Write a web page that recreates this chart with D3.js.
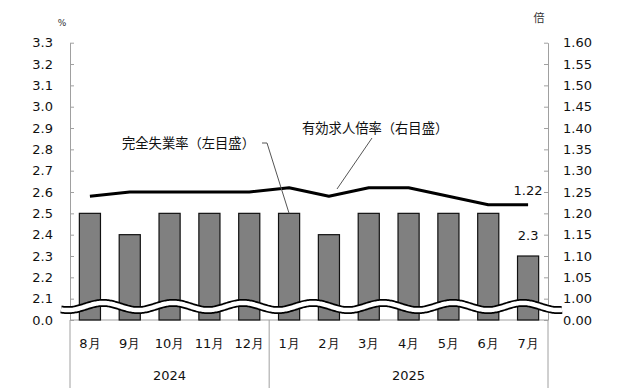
<!DOCTYPE html>
<html>
<head>
<meta charset="utf-8">
<script src="https://cdn.jsdelivr.net/npm/d3@7"></script>
<style>
  body { margin: 0; background: #fff; }
  svg { display: block; font-family: "DejaVu Sans", Verdana, sans-serif; }
</style>
</head>
<body>
<svg id="chart" width="632" height="392"></svg>
<script>
// data
const months = ["8月", "9月", "10月", "11月", "12月", "1月", "2月", "3月", "4月", "5月", "6月", "7月"];
const years = [
  { label: "2024", from: 0, to: 4 },
  { label: "2025", from: 5, to: 11 }
];
const unemployment = [2.5, 2.4, 2.5, 2.5, 2.5, 2.5, 2.4, 2.5, 2.5, 2.5, 2.5, 2.3];
const jobRatio = [1.24, 1.25, 1.25, 1.25, 1.25, 1.26, 1.24, 1.26, 1.26, 1.24, 1.22, 1.22];
const leftTicks = [2.0, 2.1, 2.2, 2.3, 2.4, 2.5, 2.6, 2.7, 2.8, 2.9, 3.0, 3.1, 3.2, 3.3];
const rightTicks = [0.95, 1.0, 1.05, 1.1, 1.15, 1.2, 1.25, 1.3, 1.35, 1.4, 1.45, 1.5, 1.55, 1.6];

const svg = d3.select("#chart");
const x0 = 70, x1 = 548, yTop = 42.7, yBase = 320;
const axisColor = "#a0a0a0";
const textColor = "#111";

let x = d3.scaleBand().domain(months).range([x0, x1]).paddingInner(0.47).paddingOuter(0.235);
let yL = d3.scaleLinear().domain([2.0, 3.3]).range([yBase, yTop]);
let yR = d3.scaleLinear().domain([0.95, 1.6]).range([yBase, yTop]);
const cx = m => x(m) + x.bandwidth() / 2;

// axes
let leftAxis = d3.axisLeft(yL).tickValues(leftTicks)
  .tickFormat(d => d === 2.0 ? "0.0" : d.toFixed(1))
  .tickSizeInner(-4).tickSizeOuter(0).tickPadding(17);
let rightAxis = d3.axisRight(yR).tickValues(rightTicks)
  .tickFormat(d => d === 0.95 ? "0.00" : d.toFixed(2))
  .tickSizeInner(-4).tickSizeOuter(0).tickPadding(15);

let gL = svg.append("g").attr("transform", `translate(${x0},0)`).call(leftAxis);
let gR = svg.append("g").attr("transform", `translate(${x1},0)`).call(rightAxis);
[gL, gR].forEach(g => {
  g.select(".domain").attr("stroke", axisColor);
  g.selectAll(".tick line").attr("stroke", axisColor);
  g.selectAll(".tick text").attr("fill", textColor).attr("font-size", 13)
    .attr("font-family", "DejaVu Sans, sans-serif");
});

// category area lines below the plot
svg.append("line").attr("x1", x0).attr("x2", x1).attr("y1", yBase).attr("y2", yBase).attr("stroke", axisColor);
[x0, x0 + (x1 - x0) * 5 / 12, x1].forEach(v => {
  svg.append("line").attr("x1", v).attr("x2", v).attr("y1", yBase).attr("y2", 388).attr("stroke", axisColor);
});

svg.selectAll(".month").data(months).enter().append("text")
  .attr("class", "month")
  .attr("x", d => cx(d)).attr("y", 343).attr("dy", "0.35em")
  .attr("text-anchor", "middle").attr("font-size", 13).attr("fill", textColor)
  .text(d => d);

svg.selectAll(".year").data(years).enter().append("text")
  .attr("class", "year")
  .attr("x", d => (x.step() * d.from + x.step() * (d.to + 1)) / 2 + x0)
  .attr("y", 375).attr("dy", "0.35em")
  .attr("text-anchor", "middle").attr("font-size", 13).attr("fill", textColor)
  .text(d => d.label);

// unit labels
svg.append("text").attr("x", 62).attr("y", 23).attr("dy", "0.35em").attr("text-anchor", "middle")
  .attr("font-size", 9).attr("fill", "#333").text("%");
svg.append("text").attr("x", 539).attr("y", 18).attr("dy", "0.35em").attr("text-anchor", "middle")
  .attr("font-size", 11).attr("fill", "#333").attr("font-family", "Noto Sans CJK JP").text("倍");

// bars
svg.selectAll(".bar").data(unemployment).enter().append("rect")
  .attr("class", "bar")
  .attr("x", (d, i) => x(months[i]))
  .attr("width", x.bandwidth())
  .attr("y", d => yL(d))
  .attr("height", d => yBase - yL(d))
  .attr("fill", "#808080").attr("stroke", "#111").attr("stroke-width", 1.2);

// wavy break
const wave = d3.range(61, 563, 1).map(v => [v, 306.5 - 3.6 * Math.cos(2 * Math.PI * (v - 103) / 70)]);
const waveLine = d3.line();
svg.append("path").attr("d", waveLine(wave)).attr("fill", "none").attr("stroke", "#000").attr("stroke-width", 8);
svg.append("path").attr("d", waveLine(wave)).attr("fill", "none").attr("stroke", "#fff").attr("stroke-width", 4.5);

// ratio line
let line = d3.line().x((d, i) => cx(months[i])).y(d => yR(d));
svg.append("path").datum(jobRatio).attr("d", line)
  .attr("fill", "none").attr("stroke", "#000").attr("stroke-width", 3).attr("stroke-linejoin", "round");

// value labels
svg.append("text").attr("x", cx("7月")).attr("y", 190).attr("dy", "0.35em").attr("text-anchor", "middle")
  .attr("font-size", 13).attr("fill", textColor).text(jobRatio[11].toFixed(2));
svg.append("text").attr("x", cx("7月")).attr("y", 235).attr("dy", "0.35em").attr("text-anchor", "middle")
  .attr("font-size", 13).attr("fill", textColor).text(unemployment[11].toFixed(1));

// annotations
const cjk = "Noto Sans CJK JP, sans-serif";
svg.append("text").attr("x", 122).attr("y", 143).attr("dy", "0.35em")
  .attr("font-size", 13.3).attr("font-family", cjk).attr("fill", textColor).text("完全失業率（左目盛）");
svg.append("polyline")
  .attr("points", [[262, 143], [267, 143], [cx("1月"), yL(unemployment[5])]].map(p => p.join(",")).join(" "))
  .attr("fill", "none").attr("stroke", "#555").attr("stroke-width", 1);

svg.append("text").attr("x", 302).attr("y", 128).attr("dy", "0.35em")
  .attr("font-size", 13.3).attr("font-family", cjk).attr("fill", textColor).text("有効求人倍率（右目盛）");
svg.append("line").attr("x1", 372).attr("y1", 138).attr("x2", 337).attr("y2", 189)
  .attr("stroke", "#555").attr("stroke-width", 1);
</script>
</body>
</html>
